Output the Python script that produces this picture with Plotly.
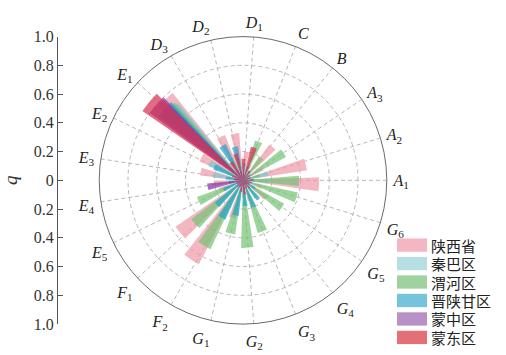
import plotly.graph_objects as go

# Direction categories (letter + subscript), counter-clockwise from the positive x axis
directions = ["A1", "A2", "A3", "B", "C", "D1", "D2", "D3", "E1", "E2", "E3",
              "E4", "E5", "F1", "F2", "G1", "G2", "G3", "G4", "G5", "G6"]

regions = ["陕西省", "秦巴区", "渭河区", "晋陕甘区", "蒙中区", "蒙东区"]

q_shaanxi = [0.53, 0.45, 0.16, 0.31, 0.12, 0.20, 0.33, 0.34, 0.78, 0.33, 0.30,
             0.20, 0.18, 0.57, 0.66, 0.27, 0.12, 0.15, 0.10, 0.20, 0.14]
q_qinba = [0.17, 0.18, 0.08, 0.06, 0.05, 0.05, 0.10, 0.12, 0.70, 0.26, 0.21,
           0.10, 0.08, 0.15, 0.20, 0.10, 0.08, 0.06, 0.05, 0.10, 0.08]
q_weihe = [0.39, 0.12, 0.34, 0.20, 0.29, 0.08, 0.15, 0.18, 0.72, 0.12, 0.10,
           0.08, 0.34, 0.45, 0.53, 0.38, 0.47, 0.38, 0.15, 0.33, 0.39]
q_jinshangan = [0.08, 0.06, 0.05, 0.08, 0.10, 0.12, 0.24, 0.28, 0.74, 0.22, 0.12,
                0.10, 0.15, 0.25, 0.30, 0.25, 0.18, 0.20, 0.17, 0.10, 0.06]
q_mengzhong = [0.03, 0.04, 0.02, 0.03, 0.04, 0.05, 0.06, 0.08, 0.80, 0.05, 0.06,
               0.25, 0.05, 0.04, 0.05, 0.04, 0.06, 0.03, 0.04, 0.05, 0.03]
q_mengdong = [0.07, 0.05, 0.06, 0.08, 0.24, 0.15, 0.19, 0.15, 0.85, 0.08, 0.06,
              0.05, 0.04, 0.06, 0.05, 0.08, 0.10, 0.06, 0.07, 0.05, 0.06]

series = [q_shaanxi, q_qinba, q_weihe, q_jinshangan, q_mengzhong, q_mengdong]
colors = ["rgb(239,155,171)", "rgb(130,198,207)", "rgb(120,195,120)",
          "rgb(40,165,200)", "rgb(135,55,165)", "rgb(212,50,82)"]
legend_colors = ["rgb(243,182,194)", "rgb(182,222,227)", "rgb(160,210,160)",
                 "rgb(118,196,220)", "rgb(184,146,198)", "rgb(226,112,118)"]

ring_ticks = [0.2, 0.4, 0.6, 0.8, 1.0]
q_ticks = [-1.0, -0.8, -0.6, -0.4, -0.2, 0.0, 0.2, 0.4, 0.6, 0.8, 1.0]

serif = "Liberation Serif"
cjk = "Noto Sans CJK SC"

n = len(directions)
step = 360.0 / n
cat_angles = [i * step for i in range(n)]


def label_html(code):
    letter, sub = code[0], code[1:]
    return f"<i>{letter}</i><sub>{sub}</sub>" if sub else f"<i>{letter}</i>"


fig = go.Figure()

# Bars of each region fan out slightly inside their direction sector
bar_width = 10.5
spread = 1.2
for j, (name, vals) in enumerate(zip(regions, series)):
    off = (j - (len(regions) - 1) / 2) * spread
    fig.add_trace(go.Barpolar(
        r=vals,
        theta=[a + off for a in cat_angles],
        width=[bar_width] * n,
        name=name,
        marker=dict(color=colors[j], line=dict(width=0)),
        opacity=0.72,
        showlegend=False,
    ))

# Empty cartesian trace so the vertical q scale is drawn
fig.add_trace(go.Scatter(x=[], y=[], xaxis="x", yaxis="y", showlegend=False))

W, H = 506, 355
cx, cy, R = 243, 181, 151
grid_col = "#bcb6b6"

fig.update_layout(
    width=W, height=H,
    margin=dict(l=0, r=0, t=0, b=0),
    paper_bgcolor="white",
    plot_bgcolor="rgba(0,0,0,0)",
    barmode="overlay",
    polar=dict(
        domain=dict(x=[(cx - R) / W, (cx + R) / W],
                    y=[1 - (cy + R) / H, 1 - (cy - R) / H]),
        bgcolor="white",
        radialaxis=dict(
            range=[0, 1], tickvals=ring_ticks, showticklabels=False,
            ticks="", showline=False, gridcolor=grid_col, griddash="4px,3px",
            gridwidth=1, layer="above traces",
        ),
        angularaxis=dict(
            rotation=0, direction="counterclockwise", thetaunit="degrees",
            tickmode="array", tickvals=cat_angles,
            ticktext=[label_html(d) for d in directions],
            tickfont=dict(family=serif, size=16, color="#222"),
            ticks="outside", ticklen=3, tickcolor="rgba(0,0,0,0)",
            showline=True, linecolor="#6a6a6a", linewidth=1,
            gridcolor=grid_col, griddash="4px,3px", gridwidth=1,
            layer="above traces",
        ),
    ),
    xaxis=dict(domain=[0.113, 0.12], visible=False, range=[0, 1]),
    yaxis=dict(
        domain=[1 - (cy + R) / H, 1 - (cy - R) / H],
        anchor="free", position=57 / W, side="left",
        range=[-1, 1], tickmode="array", tickvals=q_ticks,
        ticktext=["1.0" if abs(v) == 1 else ("0" if v == 0 else f"{abs(v):.1f}")
                  for v in q_ticks],
        ticks="inside", ticklen=5, tickcolor="#555",
        showline=True, linecolor="#555", linewidth=1,
        showgrid=False, zeroline=False,
        tickfont=dict(family=serif, size=16, color="#333"),
        title=dict(text="<i>q</i>", font=dict(family=serif, size=19, color="#333"),
                   standoff=10),
    ),
)

# Legend drawn as swatches and labels in the lower right corner
leg_x0, leg_top, leg_step = 397, 249, 19.4
for j, name in enumerate(regions):
    yc = leg_top + j * leg_step
    fig.add_shape(type="rect", xref="paper", yref="paper",
                  x0=leg_x0 / W, x1=(leg_x0 + 30) / W,
                  y0=1 - (yc + 7) / H, y1=1 - (yc - 7) / H,
                  fillcolor=legend_colors[j], line=dict(width=0))
    fig.add_annotation(x=(leg_x0 + 33) / W, y=1 - yc / H, xref="paper", yref="paper",
                       text=name, showarrow=False, xanchor="left", yanchor="middle",
                       height=19, valign="middle", borderpad=0,
                       font=dict(family=cjk, size=15, color="#222"))

fig.write_html("out.html")
